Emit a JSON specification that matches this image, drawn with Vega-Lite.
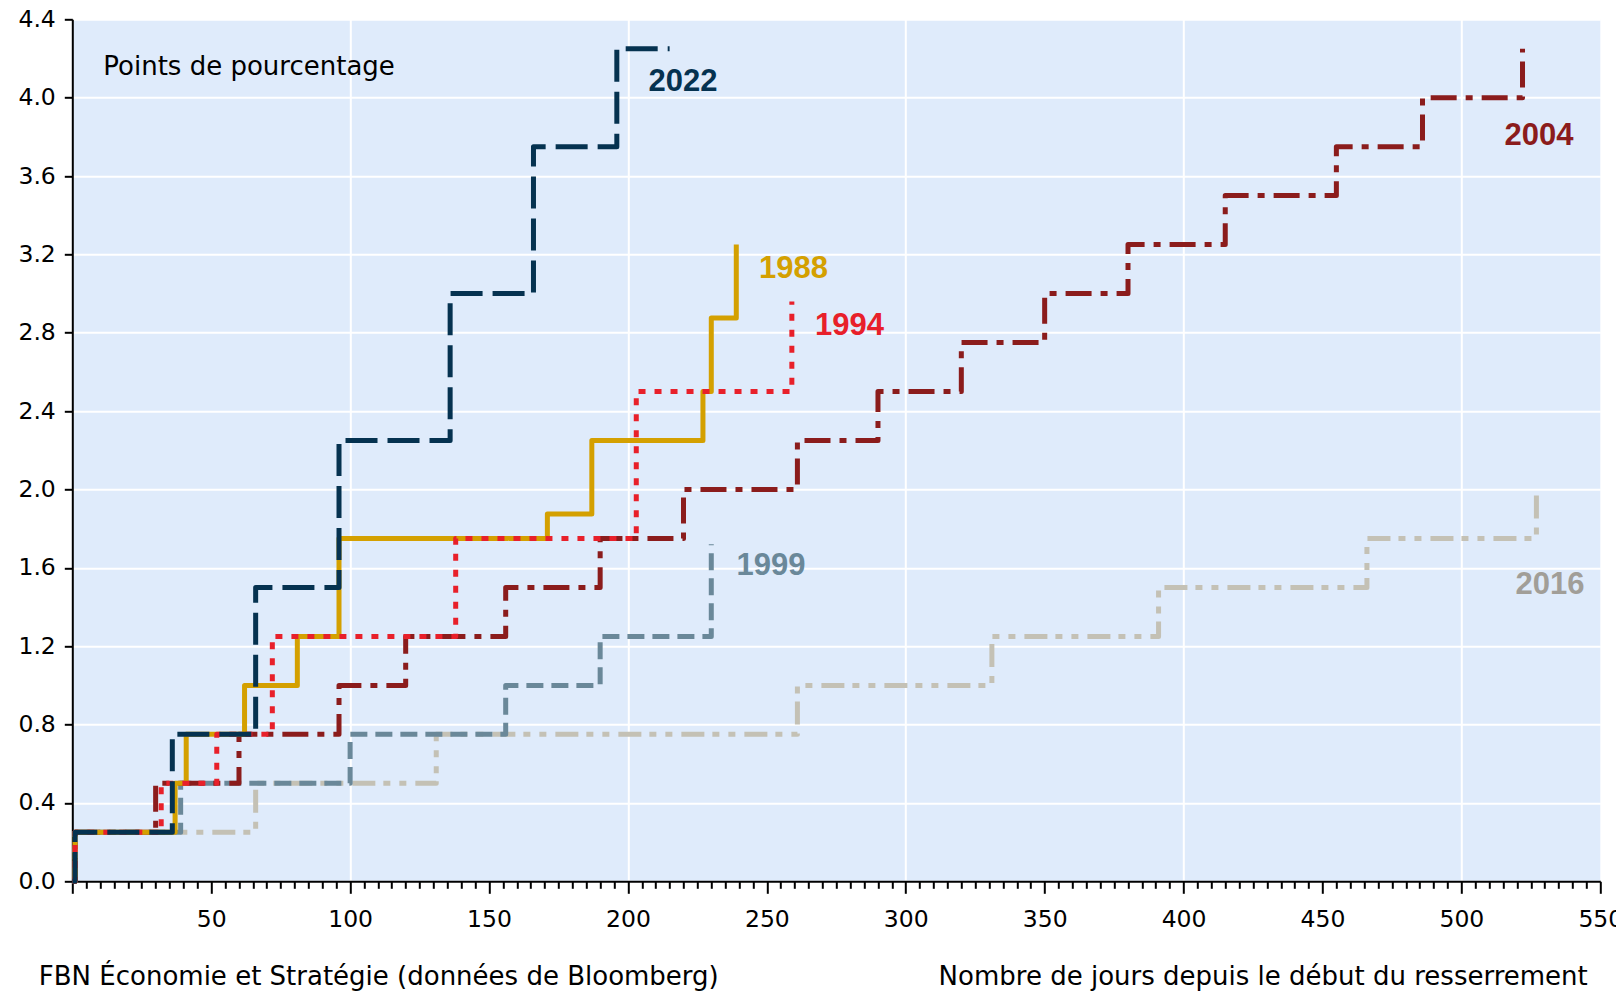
{
  "$schema": "https://vega.github.io/schema/vega-lite/v6.json",
  "width": 1528,
  "height": 862,
  "autosize": {"type": "none"},
  "padding": {"left": 72.3, "top": 19.3, "right": 15.7, "bottom": 114.7},
  "background": "white",
  "config": {
    "view": {"fill": "#dfebfb", "stroke": null},
    "font": "DejaVu Sans"
  },
  "datasets": {
    "lines": [
      {"series": "2016", "day": 0, "value": 0},
      {"series": "2016", "day": 1, "value": 0.25},
      {"series": "2016", "day": 66, "value": 0.5},
      {"series": "2016", "day": 131, "value": 0.75},
      {"series": "2016", "day": 261, "value": 1.0},
      {"series": "2016", "day": 331, "value": 1.25},
      {"series": "2016", "day": 391, "value": 1.5},
      {"series": "2016", "day": 466, "value": 1.75},
      {"series": "2016", "day": 527, "value": 2.0},
      {"series": "1999", "day": 0, "value": 0},
      {"series": "1999", "day": 1, "value": 0.25},
      {"series": "1999", "day": 39, "value": 0.5},
      {"series": "1999", "day": 100, "value": 0.75},
      {"series": "1999", "day": 156, "value": 1.0},
      {"series": "1999", "day": 190, "value": 1.25},
      {"series": "1999", "day": 230, "value": 1.72},
      {"series": "2004", "day": 0, "value": 0},
      {"series": "2004", "day": 1, "value": 0.25},
      {"series": "2004", "day": 30, "value": 0.5},
      {"series": "2004", "day": 60, "value": 0.75},
      {"series": "2004", "day": 96, "value": 1.0},
      {"series": "2004", "day": 120, "value": 1.25},
      {"series": "2004", "day": 156, "value": 1.5},
      {"series": "2004", "day": 190, "value": 1.75},
      {"series": "2004", "day": 220, "value": 2.0},
      {"series": "2004", "day": 261, "value": 2.25},
      {"series": "2004", "day": 290, "value": 2.5},
      {"series": "2004", "day": 320, "value": 2.75},
      {"series": "2004", "day": 350, "value": 3.0},
      {"series": "2004", "day": 380, "value": 3.25},
      {"series": "2004", "day": 415, "value": 3.5},
      {"series": "2004", "day": 455, "value": 3.75},
      {"series": "2004", "day": 486, "value": 4.0},
      {"series": "2004", "day": 522, "value": 4.25},
      {"series": "1988", "day": 0, "value": 0},
      {"series": "1988", "day": 1, "value": 0.25},
      {"series": "1988", "day": 37, "value": 0.5},
      {"series": "1988", "day": 41, "value": 0.75},
      {"series": "1988", "day": 62, "value": 1.0},
      {"series": "1988", "day": 81, "value": 1.25},
      {"series": "1988", "day": 96, "value": 1.75},
      {"series": "1988", "day": 171, "value": 1.875},
      {"series": "1988", "day": 187, "value": 2.25},
      {"series": "1988", "day": 227, "value": 2.5},
      {"series": "1988", "day": 230, "value": 2.875},
      {"series": "1988", "day": 239, "value": 3.25},
      {"series": "1994", "day": 0, "value": 0},
      {"series": "1994", "day": 1, "value": 0.25},
      {"series": "1994", "day": 32, "value": 0.5},
      {"series": "1994", "day": 52, "value": 0.75},
      {"series": "1994", "day": 72, "value": 1.25},
      {"series": "1994", "day": 138, "value": 1.75},
      {"series": "1994", "day": 203, "value": 2.5},
      {"series": "1994", "day": 259, "value": 2.96},
      {"series": "2022", "day": 0, "value": 0},
      {"series": "2022", "day": 1, "value": 0.25},
      {"series": "2022", "day": 36, "value": 0.75},
      {"series": "2022", "day": 66, "value": 1.5},
      {"series": "2022", "day": 96, "value": 2.25},
      {"series": "2022", "day": 136, "value": 3.0},
      {"series": "2022", "day": 166, "value": 3.75},
      {"series": "2022", "day": 196, "value": 4.25},
      {"series": "2022", "day": 215, "value": 4.25}
    ],
    "labels": [
      {"series": "2022", "day": 207.4, "value": 4.035},
      {"series": "1988", "day": 247.2, "value": 3.078},
      {"series": "1994", "day": 267.3, "value": 2.789},
      {"series": "2004", "day": 515.5, "value": 3.759},
      {"series": "1999", "day": 239.1, "value": 1.564},
      {"series": "2016", "day": 519.5, "value": 1.467}
    ],
    "note": [
      {"note": "Points de pourcentage", "day": 11.15, "value": 4.116}
    ]
  },
  "layer": [
    {
      "data": {"name": "lines"},
      "mark": {"type": "line", "interpolate": "step-after", "strokeWidth": 5, "strokeJoin": "round"},
      "encoding": {
        "x": {
          "field": "day", "type": "quantitative",
          "scale": {"domain": [0, 550], "nice": false, "zero": false},
          "axis": {
            "title": "Nombre de jours depuis le début du resserrement",
            "titleFont": "DejaVu Sans",
            "titleFontSize": 26, "titleFontWeight": "normal", "titleColor": "#000000",
            "titleAlign": "right", "titleBaseline": "alphabetic", "titleAngle": 0,
            "titleX": 1515, "titleY": 103,
            "tickCount": 110,
            "labelExpr": "datum.value % 50 === 0 && datum.value > 0 ? datum.label : ''",
            "labelFont": "DejaVu Sans",
            "labelFontSize": 23.5, "labelColor": "#000000", "labelPadding": 14,
            "labelOverlap": false, "labelFlush": false, "labelBound": false,
            "tickSize": {"condition": {"test": "datum.value % 50 === 0", "value": 12}, "value": 7},
            "tickColor": "#000000", "tickWidth": 2,
            "domainColor": "#000000", "domainWidth": 2,
            "grid": true, "gridColor": "#ffffff", "gridWidth": 2,
            "gridOpacity": {"condition": {"test": "datum.value % 100 === 0 && datum.value > 0", "value": 1}, "value": 0}
          }
        },
        "y": {
          "field": "value", "type": "quantitative",
          "scale": {"domain": [0, 4.4], "nice": false},
          "axis": {
            "values": [0, 0.4, 0.8, 1.2, 1.6, 2, 2.4, 2.8, 3.2, 3.6, 4, 4.4],
            "format": ".1f",
            "labelFont": "DejaVu Sans",
            "labelFontSize": 23.5, "labelColor": "#000000", "labelPadding": 9,
            "tickSize": 8, "tickColor": "#000000", "tickWidth": 2,
            "domainColor": "#000000", "domainWidth": 2,
            "grid": true, "gridColor": "#ffffff", "gridWidth": 2,
            "title": "FBN Économie et Stratégie (données de Bloomberg)",
            "titleFont": "DejaVu Sans",
            "titleAngle": 0, "titleAlign": "left", "titleBaseline": "alphabetic",
            "titleX": -34, "titleY": 965,
            "titleFontSize": 26, "titleFontWeight": "normal", "titleColor": "#000000"
          }
        },
        "color": {
          "field": "series", "type": "nominal",
          "scale": {
            "domain": ["2016", "1999", "2004", "1988", "1994", "2022"],
            "range": ["#c4c1b5", "#6a8899", "#8b1c1c", "#d4a000", "#e8202a", "#053250"]
          },
          "legend": null
        },
        "strokeDash": {
          "field": "series", "type": "nominal",
          "scale": {
            "domain": ["2016", "1999", "2004", "1988", "1994", "2022"],
            "range": [[23, 8, 7, 9, 7, 9], [17, 8], [26, 9, 7, 9], [1, 0], [7, 9], [32, 10]]
          },
          "legend": null
        },
        "order": {"field": "day", "type": "quantitative"}
      }
    },
    {
      "data": {"name": "labels"},
      "mark": {"type": "text", "align": "left", "baseline": "alphabetic", "font": "Liberation Sans", "fontSize": 31, "fontWeight": "bold"},
      "encoding": {
        "x": {"field": "day", "type": "quantitative", "scale": {"domain": [0, 550], "nice": false, "zero": false}},
        "y": {"field": "value", "type": "quantitative", "scale": {"domain": [0, 4.4], "nice": false}},
        "text": {"field": "series", "type": "nominal"},
        "color": {
          "field": "series", "type": "nominal",
          "scale": {
            "domain": ["2016", "1999", "2004", "1988", "1994", "2022"],
            "range": ["#a19e98", "#6a8899", "#8b1c1c", "#d4a000", "#e8202a", "#053250"]
          },
          "legend": null
        }
      }
    },
    {
      "data": {"name": "note"},
      "mark": {"type": "text", "align": "left", "baseline": "alphabetic", "font": "DejaVu Sans", "fontSize": 26, "color": "#000000"},
      "encoding": {
        "x": {"field": "day", "type": "quantitative", "scale": {"domain": [0, 550], "nice": false, "zero": false}},
        "y": {"field": "value", "type": "quantitative", "scale": {"domain": [0, 4.4], "nice": false}},
        "text": {"field": "note", "type": "nominal"}
      }
    }
  ],
  "resolve": {"scale": {"color": "independent"}}
}
